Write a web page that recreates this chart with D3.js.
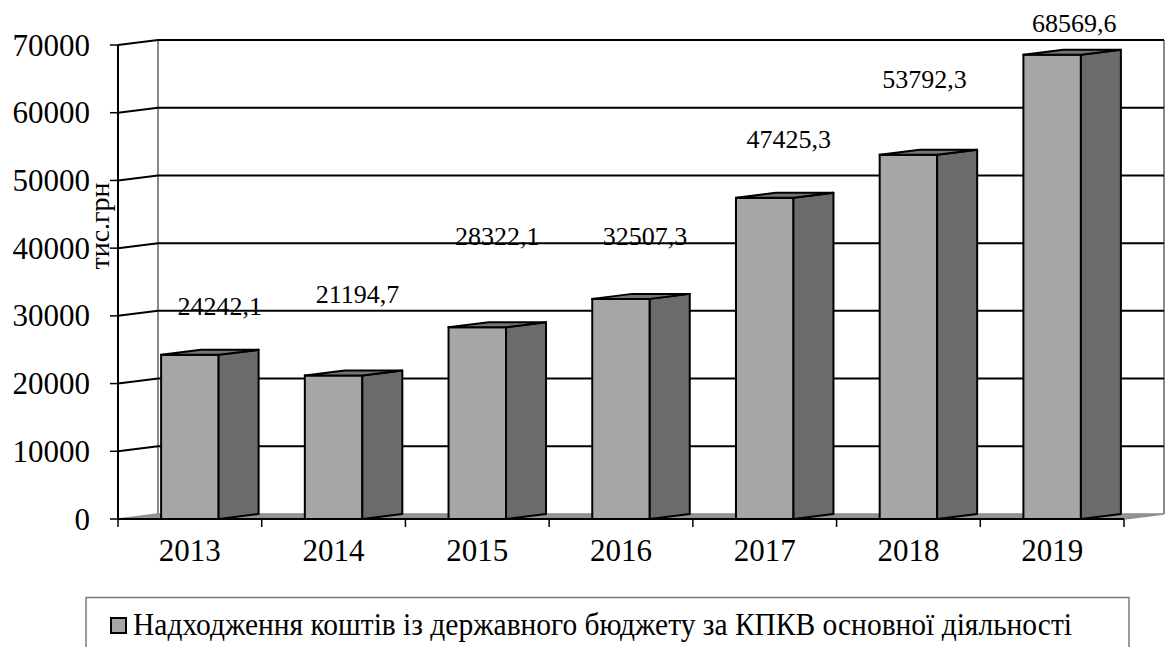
<!DOCTYPE html>
<html>
<head>
<meta charset="utf-8">
<script src="https://cdn.jsdelivr.net/npm/d3@7"></script>
<style>
  body { margin: 0; background: #fff; }
</style>
</head>
<body>
<div class="chart"></div>
<script>
// DATA
var years = ['2013', '2014', '2015', '2016', '2017', '2018', '2019']
var values = [24242.1, 21194.7, 28322.1, 32507.3, 47425.3, 53792.3, 68569.6]
var valueLabels = ['24242,1', '21194,7', '28322,1', '32507,3', '47425,3', '53792,3', '68569,6']
var yTicks = [0, 10000, 20000, 30000, 40000, 50000, 60000, 70000]
var seriesName = 'Надходження коштів із державного бюджету за КПКВ основної діяльності'

// LABEL NUDGES (PIXELS) - LABELS WERE HAND PLACED IN THE ORIGINAL
var labelDx = [30, 24, 20, 24, 24, 16, 22]
var labelDy = [-40, -72, -82, -54, -50, -67, -23]

var w = 1173
var h = 647
var serif = '"Liberation Serif", "DejaVu Serif", "Times New Roman", serif'

var svg = d3.select('.chart').append('svg')
    .attr('width', w)
    .attr('height', h)
    .attr('font-family', serif)

// 3D DEPTH OFFSET
var dx = 40, dy = -5

var x = d3.scaleBand()
    .domain(years)
    .range([118, 1124])
    .paddingInner(0.6)
    .paddingOuter(0.3)

var xEdge = d3.scaleLinear().domain([0, years.length]).range([118, 1124])

var y = d3.scaleLinear()
    .domain([0, 70000])
    .range([519, 45])

var y0 = y(0), yTop = y(70000), xl = xEdge(0), xr = xEdge(years.length)

// WALLS
var wallg = svg.append('g').attr('class', 'walls_g')

// FLOOR
wallg.append('path')
    .attr('d', 'M' + xl + ',' + y0 + 'L' + (xl + dx) + ',' + (y0 + dy) + 'L' + (xr + dx) + ',' + (y0 + dy) + 'L' + xr + ',' + y0 + 'Z')
    .attr('fill', '#959595')
    .attr('stroke', '#8c8c8c')
    .attr('stroke-width', 1.5)

// BACK WALL VERTICAL EDGES
wallg.selectAll('line.edge')
    .data([xl + dx, xr + dx])
    .enter().append('line')
    .attr('class', 'edge')
    .attr('x1', function(d){ return d })
    .attr('x2', function(d){ return d })
    .attr('y1', yTop + dy)
    .attr('y2', y0 + dy)
    .attr('stroke', '#8a8a8a')
    .attr('stroke-width', 2)

// GRIDLINES (SIDE WALL + BACK WALL)
var gridg = svg.append('g').attr('class', 'grid_g')
gridg.selectAll('path')
    .data(yTicks.filter(function(d){ return d > 0 }))
    .enter().append('path')
    .attr('d', function(d){
        return 'M' + xl + ',' + y(d) + 'L' + (xl + dx) + ',' + (y(d) + dy) + 'L' + (xr + dx) + ',' + (y(d) + dy)
    })
    .attr('fill', 'none')
    .attr('stroke', '#000')
    .attr('stroke-width', 2)

// FRONT Y AXIS LINE + TICKS
var axisg = svg.append('g').attr('class', 'axis_g')
axisg.append('line')
    .attr('x1', xl).attr('x2', xl)
    .attr('y1', yTop).attr('y2', y0)
    .attr('stroke', '#000').attr('stroke-width', 2)

axisg.selectAll('line.ytick')
    .data(yTicks)
    .enter().append('line')
    .attr('class', 'ytick')
    .attr('x1', xl - 8).attr('x2', xl)
    .attr('y1', function(d){ return y(d) })
    .attr('y2', function(d){ return y(d) })
    .attr('stroke', '#000').attr('stroke-width', 1.5)

axisg.selectAll('text.ylab')
    .data(yTicks)
    .enter().append('text')
    .attr('class', 'ylab')
    .attr('x', 90)
    .attr('y', function(d){ return y(d) + 10.5 })
    .attr('text-anchor', 'end')
    .attr('font-family', serif)
    .style('font-size', '31px')
    .text(function(d){ return d })

// X AXIS LINE + TICKS
axisg.append('line')
    .attr('x1', xl).attr('x2', xr)
    .attr('y1', y0).attr('y2', y0)
    .attr('stroke', '#000').attr('stroke-width', 2)

axisg.selectAll('line.xtick')
    .data(d3.range(years.length + 1))
    .enter().append('line')
    .attr('class', 'xtick')
    .attr('x1', function(d){ return xEdge(d) })
    .attr('x2', function(d){ return xEdge(d) })
    .attr('y1', y0).attr('y2', y0 + 8)
    .attr('stroke', '#000').attr('stroke-width', 1.5)

axisg.selectAll('text.xlab')
    .data(years)
    .enter().append('text')
    .attr('class', 'xlab')
    .attr('x', function(d){ return x(d) + x.bandwidth() / 2 })
    .attr('y', 561)
    .attr('text-anchor', 'middle')
    .attr('font-family', serif)
    .style('font-size', '31px')
    .text(function(d){ return d })

// Y TITLE
svg.append('text')
    .attr('transform', 'translate(109,226) rotate(-90)')
    .attr('text-anchor', 'middle')
    .attr('font-family', serif)
    .style('font-size', '28px')
    .text('тис.грн')

// BARS
var bw = x.bandwidth()
var barg = svg.append('g').attr('class', 'bars_g')
var bar = barg.selectAll('g')
    .data(values)
    .enter().append('g')

// FRONT FACE
bar.append('rect')
    .attr('x', function(d, i){ return x(years[i]) })
    .attr('y', function(d){ return y(d) })
    .attr('width', bw)
    .attr('height', function(d){ return y0 - y(d) })
    .attr('fill', '#a6a6a6')
    .attr('stroke', '#000')
    .attr('stroke-width', 2)

// SIDE FACE
bar.append('path')
    .attr('d', function(d, i){
        var xs = x(years[i]) + bw
        return 'M' + xs + ',' + y(d) + 'L' + (xs + dx) + ',' + (y(d) + dy) + 'L' + (xs + dx) + ',' + (y0 + dy) + 'L' + xs + ',' + y0 + 'Z'
    })
    .attr('fill', '#6b6b6b')
    .attr('stroke', '#000')
    .attr('stroke-width', 2)
    .attr('stroke-linejoin', 'round')

// TOP FACE
bar.append('path')
    .attr('d', function(d, i){
        var xs = x(years[i])
        return 'M' + xs + ',' + y(d) + 'L' + (xs + dx) + ',' + (y(d) + dy) + 'L' + (xs + bw + dx) + ',' + (y(d) + dy) + 'L' + (xs + bw) + ',' + y(d) + 'Z'
    })
    .attr('fill', '#747474')
    .attr('stroke', '#000')
    .attr('stroke-width', 2)
    .attr('stroke-linejoin', 'round')

// VALUE LABELS
svg.append('g').attr('class', 'text_g')
    .selectAll('text')
    .data(values)
    .enter().append('text')
    .attr('x', function(d, i){ return x(years[i]) + bw / 2 + labelDx[i] })
    .attr('y', function(d, i){ return y(d) + labelDy[i] })
    .attr('text-anchor', 'middle')
    .attr('font-family', serif)
    .style('font-size', '26px')
    .text(function(d, i){ return valueLabels[i] })

// LEGEND
var legend = svg.append('g').attr('class', 'legend_g')
legend.append('rect')
    .attr('x', 86).attr('y', 597.5)
    .attr('width', 1043).attr('height', 80)
    .attr('fill', 'none')
    .attr('stroke', '#7a7a7a')
    .attr('stroke-width', 1.5)

legend.append('rect')
    .attr('x', 111).attr('y', 618)
    .attr('width', 15).attr('height', 15)
    .attr('fill', '#a6a6a6')
    .attr('stroke', '#000')
    .attr('stroke-width', 2)

legend.append('text')
    .attr('x', 133).attr('y', 635)
    .attr('textLength', 939)
    .attr('lengthAdjust', 'spacingAndGlyphs')
    .attr('font-family', serif)
    .style('font-size', '32px')
    .text(seriesName)
</script>
</body>
</html>
